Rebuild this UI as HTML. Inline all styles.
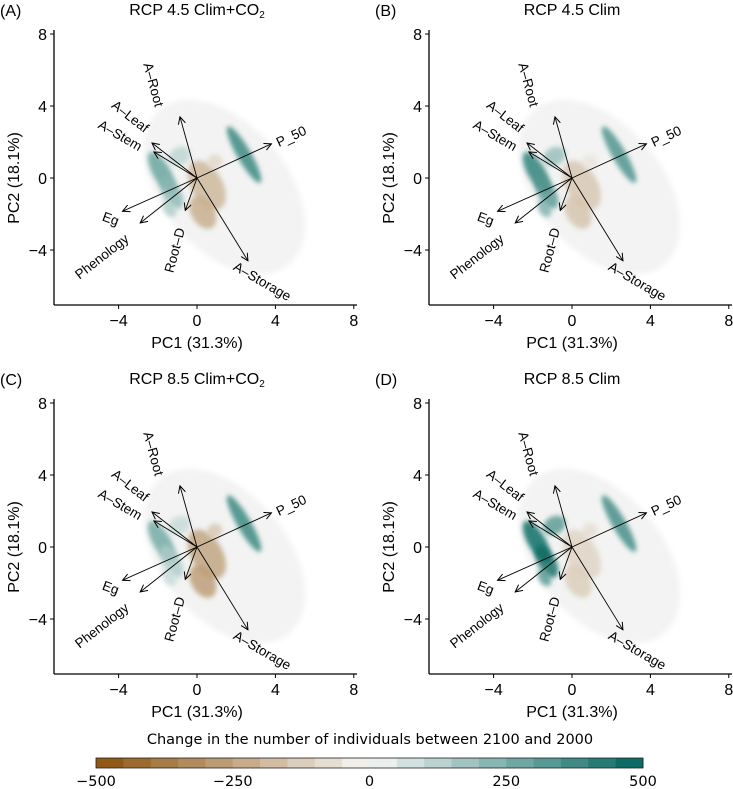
<!DOCTYPE html>
<html><head><meta charset="utf-8"><style>
body{margin:0;background:#fff;}
svg{display:block;font-family:"Liberation Sans",sans-serif;}
</style></head><body>
<svg id="fig" width="733" height="789" viewBox="0 0 733 789">
<defs>
<filter id="blur4" x="-50%" y="-50%" width="200%" height="200%"><feGaussianBlur stdDeviation="3"/></filter>
<filter id="blur2" x="-50%" y="-50%" width="200%" height="200%"><feGaussianBlur stdDeviation="2.5"/></filter>
<marker id="ah" viewBox="0 0 10 10" refX="9" refY="5" markerWidth="9" markerHeight="9" orient="auto-start-reverse" markerUnits="userSpaceOnUse"><path d="M1,1 L9,5 L1,9" fill="none" stroke="#000" stroke-width="1.1"/></marker>
</defs>
</svg>
<script>
// Loadings (PC1, PC2) for each trait arrow
const traits = ["A-Root","A-Leaf","A-Stem","P_50","Eg","Phenology","Root-D","A-Storage"];
const loadPC1 = [-0.87,-2.3,-2.2,3.8,-3.8,-2.9,-0.6,2.6];
const loadPC2 = [3.4,1.95,1.45,1.9,-1.85,-2.5,-1.8,-4.6];
const xTicks = [-4,0,4,8];
const yTicks = [-4,0,4,8];
const panelTitles = ["RCP 4.5 Clim+CO","RCP 4.5 Clim","RCP 8.5 Clim+CO","RCP 8.5 Clim"];
const panelLetters = ["(A)","(B)","(C)","(D)"];
const panelCO2 = [true,false,true,false];
// density patches: centre PC1, PC2, radius x, radius y, value (change) per panel
const blobPC1 = [-1.8,-1.3,-0.9,2.4,0.5,0.3,-1.4,0.9];
const blobPC2 = [0.3,-0.8,1.2,1.3,-0.4,-1.9,-1.7,0.9];
const blobRX = [0.45,0.45,0.6,0.35,0.8,0.6,0.3,0.4];
const blobRY = [1.3,1.0,0.5,1.8,1.5,1.0,0.5,0.4];
const blobVals = [
 [300,220,120,400,-200,-230,150,-100],
 [420,330,200,360,-150,-160,250,-60],
 [280,150,100,400,-260,-280,100,-150],
 [500,480,330,380,-110,-130,330,-80]
];
const cbTicks = [-500,-250,0,250,500];

const svg=document.getElementById('fig');
const NS="http://www.w3.org/2000/svg";
function mk(tag,attrs,parent){const e=document.createElementNS(NS,tag);for(const k in attrs)e.setAttribute(k,attrs[k]);(parent||svg).appendChild(e);return e;}
function col(v){const t=Math.max(-1,Math.min(1,v/500));
 const neg=[140,81,10],pos=[1,102,94],mid=[247,247,247];
 const c=t<0?neg:pos,a=Math.abs(t);
 return `rgb(${Math.round(mid[0]+(c[0]-mid[0])*a)},${Math.round(mid[1]+(c[1]-mid[1])*a)},${Math.round(mid[2]+(c[2]-mid[2])*a)})`;}

const offX=[0,375,0,375], offY=[0,0,369,369];
for(let p=0;p<4;p++){
 const ox=offX[p],oy=offY[p];
 const x0=197+ox, y0=178+oy, sx=19.6, sy=18;
 const X=v=>x0+v*sx, Y=v=>y0-v*sy;
 const g=mk('g',{});
 
 
 const cloud=mk('ellipse',{cx:X(1.4),cy:Y(-0.5),rx:3.2*sx,ry:5.6*sy,fill:'#f2f3f2',filter:'url(#blur4)',transform:`rotate(-40 ${X(1.4)} ${Y(-0.5)})`},g);
 
 
 for(let i=0;i<blobPC1.length;i++){
  const b=mk('ellipse',{cx:X(blobPC1[i]),cy:Y(blobPC2[i]),rx:blobRX[i]*sx,ry:blobRY[i]*sy,fill:col(blobVals[p][i]),opacity:0.8,filter:'url(#blur2)',transform:`rotate(-30 ${X(blobPC1[i])} ${Y(blobPC2[i])})`},g);
  
  
 }
 mk('line',{x1:54+ox,y1:30+oy,x2:54+ox,y2:305+oy,stroke:'#000','stroke-width':1.3},g);
 mk('line',{x1:54+ox,y1:305+oy,x2:357+ox,y2:305+oy,stroke:'#000','stroke-width':1.3},g);
 xTicks.forEach(t=>{mk('line',{x1:X(t),y1:305+oy,x2:X(t),y2:309+oy,stroke:'#000'},g);
  const tx=mk('text',{x:X(t),y:326+oy,'font-size':16,'text-anchor':'middle'},g);tx.textContent=t<0?'−'+(-t):t;
  });
 yTicks.forEach(t=>{mk('line',{x1:50+ox,y1:Y(t),x2:54+ox,y2:Y(t),stroke:'#000'},g);
  const tx=mk('text',{x:47+ox,y:Y(t)+6,'font-size':16,'text-anchor':'end'},g);tx.textContent=t<0?'−'+(-t):t;
  });
 const xl=mk('text',{x:197+ox,y:348+oy,'font-size':16,'text-anchor':'middle'},g);xl.textContent='PC1 (31.3%)';
 
 const yl=mk('text',{x:19+ox,y:178+oy,'font-size':16,'text-anchor':'middle',transform:`rotate(-90 ${19+ox} ${178+oy})`},g);yl.textContent='PC2 (18.1%)';
 
 const tl=mk('text',{x:197+ox,y:15+oy,'font-size':16,'text-anchor':'middle'},g);
 tl.innerHTML=panelTitles[p]+(panelCO2[p]?'<tspan font-size="10" dy="3">2</tspan>':'');
 
 const lt=mk('text',{x:0+ox,y:16+oy,'font-size':16},g);lt.textContent=panelLetters[p];
 
 const labelDX=[-27,-22,-34,20,-12,-38,-10,14], labelDY=[-32,-26,-16,-7,8,34,40,21], rot=[75,38,30,-25,20,-38,-75,30];
 for(let i=0;i<traits.length;i++){
  const a=mk('line',{x1:x0,y1:y0,x2:X(loadPC1[i]),y2:Y(loadPC2[i]),stroke:'#000','stroke-width':0.9,'marker-end':'url(#ah)'},g);
  
  const lx=X(loadPC1[i])+labelDX[i], ly=Y(loadPC2[i])+labelDY[i];
  const t=mk('text',{x:lx,y:ly+4,'font-size':13.5,'text-anchor':'middle',transform:`rotate(${rot[i]} ${lx} ${ly})`},g);
  t.textContent=traits[i].replace('-','–');
  
 }
}
const cbx0=96,cbx1=643,cby=758,cbh=10,nseg=20;
const cbt=mk('text',{x:370,y:744,'font-size':14.5,'text-anchor':'middle','font-family':'DejaVu Sans'});cbt.textContent='Change in the number of individuals between 2100 and 2000';

const segW=(cbx1-cbx0)/nseg;
for(let i=0;i<nseg;i++){const v=-500+(i+0.5)*1000/nseg;
 const r=mk('rect',{x:cbx0+i*segW,y:cby,width:segW+0.5,height:cbh,fill:col(v)});
 }
mk('rect',{x:cbx0,y:cby,width:cbx1-cbx0,height:cbh,fill:'none',stroke:'#222','stroke-width':0.8});
cbTicks.forEach(t=>{const x=cbx0+(t+500)/1000*(cbx1-cbx0);
 const tx=mk('text',{x:x,y:786,'font-size':14.5,'text-anchor':'middle','font-family':'DejaVu Sans'});tx.textContent=t<0?'−'+(-t):t;
 });
</script>
</body></html>
